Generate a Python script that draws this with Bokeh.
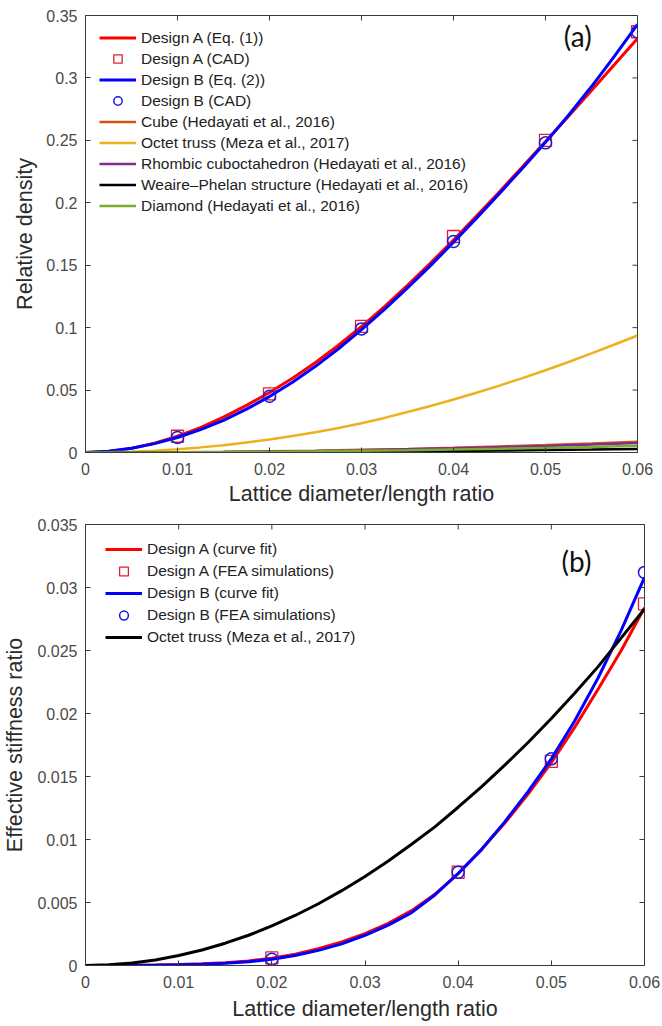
from math import pi
from bokeh.plotting import figure
from bokeh.layouts import column
from bokeh.models import Range1d, FixedTicker, Label
from bokeh.embed import file_html
from bokeh.resources import INLINE

# ---------------- data: panel (a) ----------------
x_fine = [0, 0.0025, 0.005, 0.0075, 0.01, 0.0125, 0.015, 0.0175, 0.02, 0.0225, 0.025, 0.0275, 0.03,
          0.0325, 0.035, 0.0375, 0.04, 0.0425, 0.045, 0.0475, 0.05, 0.0525, 0.055, 0.0575, 0.06]
a_designA_eq = [0, 0.0008, 0.0033, 0.0074, 0.013, 0.020, 0.0283, 0.0377, 0.0481, 0.0595, 0.0721, 0.0859,
                0.1009, 0.1169, 0.1339, 0.1517, 0.1702, 0.1893, 0.2089, 0.2288, 0.249, 0.2694, 0.290,
                0.3107, 0.3315]
a_designB_eq = [0, 0.0011, 0.0034, 0.0071, 0.012, 0.0183, 0.0258, 0.0347, 0.0448, 0.0563, 0.069, 0.0831,
                0.0984, 0.1147, 0.1318, 0.1497, 0.1684, 0.1877, 0.2075, 0.2277, 0.2484, 0.2701, 0.2931,
                0.3174, 0.3429]
a_octet = [0, 0.00016, 0.00065, 0.0015, 0.0026, 0.0041, 0.0059, 0.008, 0.0104, 0.0132, 0.0163, 0.0197,
           0.0234, 0.0277, 0.0325, 0.0373, 0.0425, 0.0479, 0.0536, 0.0596, 0.0659, 0.0725, 0.0794,
           0.0865, 0.0937]

x_coarse = [0, 0.005, 0.01, 0.015, 0.02, 0.025, 0.03, 0.035, 0.04, 0.045, 0.05, 0.055, 0.06]
a_cube = [0, 0.00006, 0.00024, 0.00054, 0.00096, 0.0015, 0.0022, 0.0029, 0.0038, 0.0049, 0.0060, 0.0073, 0.0087]
a_rhombic = [0, 0.00005, 0.0002, 0.00047, 0.00084, 0.0013, 0.0019, 0.0026, 0.0034, 0.0043, 0.0053, 0.0064, 0.0077]
a_weaire = [0, 0.00002, 0.00008, 0.00018, 0.00032, 0.0005, 0.0007, 0.00095, 0.0013, 0.0016, 0.0020, 0.0024, 0.0029]
a_diamond = [0, 0.00004, 0.00015, 0.00034, 0.0006, 0.00094, 0.00135, 0.0018, 0.0024, 0.0030, 0.0037, 0.0045, 0.0054]

x_cad = [0.01, 0.02, 0.03, 0.04, 0.05, 0.06]
a_designA_cad = [0.013, 0.047, 0.101, 0.173, 0.250, 0.337]
a_designB_cad = [0.012, 0.045, 0.099, 0.169, 0.248, 0.337]

# ---------------- data: panel (b) ----------------
b_designA_fit = [0, 0, 0.00001, 0.00003, 0.00007, 0.00013, 0.00022, 0.00036, 0.00058, 0.0009, 0.00133,
                 0.00187, 0.00253, 0.00335, 0.00435, 0.00565, 0.0073, 0.0092, 0.0113, 0.0136, 0.0161,
                 0.0189, 0.0219, 0.0250, 0.0284]
b_designB_fit = [0, 0, 0.00001, 0.00002, 0.00005, 0.0001, 0.00018, 0.0003, 0.0005, 0.0008, 0.0012,
                 0.00172, 0.0024, 0.0032, 0.0042, 0.0056, 0.0073, 0.0092, 0.0114, 0.0138, 0.0164,
                 0.0194, 0.0228, 0.0266, 0.0308]
b_octet = [0, 0.00005, 0.0002, 0.00044, 0.00079, 0.00123, 0.00177, 0.0024, 0.00314, 0.00397, 0.0049,
           0.00594, 0.00707, 0.00829, 0.00962, 0.0110, 0.01256, 0.01418, 0.0159, 0.0177, 0.0196,
           0.0216, 0.0237, 0.0260, 0.0283]

x_fea = [0.02, 0.04, 0.05, 0.06]
b_designA_fea = [0.0006, 0.0074, 0.0162, 0.0287]
b_designB_fea = [0.0005, 0.0074, 0.0164, 0.0312]

# ---------------- ticks ----------------
x_ticks = [0, 0.01, 0.02, 0.03, 0.04, 0.05, 0.06]
x_tick_labels = ["0", "0.01", "0.02", "0.03", "0.04", "0.05", "0.06"]
a_y_ticks = [0, 0.05, 0.1, 0.15, 0.2, 0.25, 0.3, 0.35]
a_y_tick_labels = ["0", "0.05", "0.1", "0.15", "0.2", "0.25", "0.3", "0.35"]
b_y_ticks = [0, 0.005, 0.01, 0.015, 0.02, 0.025, 0.03, 0.035]
b_y_tick_labels = ["0", "0.005", "0.01", "0.015", "0.02", "0.025", "0.03", "0.035"]

FONT = "Liberation Sans"
AX = "#3a3a3a"
TICK_TXT = "#4a4a4a"


def style(p, xt, xl, yt, yl, xlabel, ylabel, xmax, ymax, y_label_standoff, x_label_standoff):
    p.xgrid.visible = False
    p.ygrid.visible = False
    p.outline_line_color = AX
    p.outline_line_width = 1
    bx = p.below[0]
    ly = p.left[0]
    for ax, ticks, labels in ((bx, xt, xl), (ly, yt, yl)):
        ax.ticker = FixedTicker(ticks=ticks)
        ax.major_label_overrides = {t: s for t, s in zip(ticks, labels)}
        ax.major_tick_in = 5
        ax.major_tick_out = 0
        ax.minor_tick_line_color = None
        ax.axis_line_color = AX
        ax.major_tick_line_color = AX
        ax.major_label_text_font = FONT
        ax.major_label_text_font_size = "16px"
        ax.major_label_text_color = TICK_TXT
        ax.axis_label_text_font = FONT
        ax.axis_label_text_font_size = "21.5px"
        ax.axis_label_text_font_style = "normal"
        ax.axis_label_text_color = "#2a2a2a"
    bx.axis_label = xlabel
    bx.major_label_standoff = 10
    bx.axis_label_standoff = x_label_standoff
    ly.axis_label = ylabel
    ly.major_label_standoff = 8
    ly.axis_label_standoff = y_label_standoff
    # inward ticks on the top and right edges of the box
    p.scatter(xt, [ymax] * len(xt), marker="dash", angle=pi / 2, size=10, line_color=AX, line_width=1)
    p.scatter([xmax] * len(yt), yt, marker="dash", size=10, line_color=AX, line_width=1)


# ---------------- panel (a) ----------------
pa = figure(width=655, height=513, output_backend="svg", toolbar_location=None,
            x_range=Range1d(0, 0.06), y_range=Range1d(0, 0.35),
            min_border_left=83, min_border_right=18, min_border_top=15, min_border_bottom=61)
style(pa, x_ticks, x_tick_labels, a_y_ticks, a_y_tick_labels,
      "Lattice diameter/length ratio", "Relative density", 0.06, 0.35, 6, 4)

pa.line(x_fine, a_designA_eq, line_color="#ff0000", line_width=3, legend_label="Design A (Eq. (1))")
pa.scatter(x_cad, a_designA_cad, marker="square", size=12, fill_color=None, line_color="#e0202e",
           line_width=1.3, legend_label="Design A (CAD)")
pa.line(x_fine, a_designB_eq, line_color="#0000ff", line_width=3, legend_label="Design B (Eq. (2))")
pa.scatter(x_cad, a_designB_cad, marker="circle", size=12, fill_color=None, line_color="#1a1ae0",
           line_width=1.5, legend_label="Design B (CAD)")
pa.line(x_coarse, a_cube, line_color="#D95319", line_width=2.5, legend_label="Cube (Hedayati et al., 2016)")
pa.line(x_fine, a_octet, line_color="#EDB120", line_width=2.5, legend_label="Octet truss (Meza et al., 2017)")
pa.line(x_coarse, a_rhombic, line_color="#7E2F8E", line_width=2.5,
        legend_label="Rhombic cuboctahedron (Hedayati et al., 2016)")
pa.line(x_coarse, a_weaire, line_color="#000000", line_width=2.5,
        legend_label="Weaire\u2013Phelan structure (Hedayati et al., 2016)")
pa.line(x_coarse, a_diamond, line_color="#77AC30", line_width=2.5, legend_label="Diamond (Hedayati et al., 2016)")

pa.add_layout(Label(x=0.0535, y=0.3335, text="(a)", text_font="Lato", text_font_size="28px",
                    text_align="center", text_baseline="middle", text_color="#111111"))

# ---------------- panel (b) ----------------
pb = figure(width=662, height=511, output_backend="svg", toolbar_location=None,
            x_range=Range1d(0, 0.06), y_range=Range1d(0, 0.035),
            min_border_left=85, min_border_right=16, min_border_top=11, min_border_bottom=59)
style(pb, x_ticks, x_tick_labels, b_y_ticks, b_y_tick_labels,
      "Lattice diameter/length ratio", "Effective stiffness ratio", 0.06, 0.035, 7, 6)

pb.line(x_fine, b_designA_fit, line_color="#ff0000", line_width=3, legend_label="Design A (curve fit)")
pb.scatter(x_fea, b_designA_fea, marker="square", size=12, fill_color=None, line_color="#e0202e",
           line_width=1.3, legend_label="Design A (FEA simulations)")
pb.line(x_fine, b_designB_fit, line_color="#0000ff", line_width=3, legend_label="Design B (curve fit)")
pb.scatter(x_fea, b_designB_fea, marker="circle", size=12, fill_color=None, line_color="#1a1ae0",
           line_width=1.5, legend_label="Design B (FEA simulations)")
pb.line(x_fine, b_octet, line_color="#000000", line_width=3, legend_label="Octet truss (Meza et al., 2017)")

pb.add_layout(Label(x=0.0527, y=0.03207, text="(b)", text_font="Lato", text_font_size="28px",
                    text_align="center", text_baseline="middle", text_color="#111111"))


def style_legend(p, loc, row_h):
    lg = p.legend[0]
    lg.location = loc
    lg.margin = 0
    lg.padding = 10
    lg.spacing = 0
    lg.glyph_width = 37
    lg.glyph_height = row_h
    lg.label_height = row_h
    lg.label_standoff = 5
    lg.label_text_font = FONT
    lg.label_text_font_size = "15.5px"
    lg.label_text_color = "#222222"
    lg.background_fill_alpha = 0
    lg.border_line_alpha = 0


style_legend(pa, (4, 437 - (20 + 9 * 21) - 2), 21)
style_legend(pb, (10, 441 - (20 + 5 * 22) - 4), 22)

layout = column(pa, pb, spacing=0)
open("out.html", "w").write(file_html(layout, INLINE))
